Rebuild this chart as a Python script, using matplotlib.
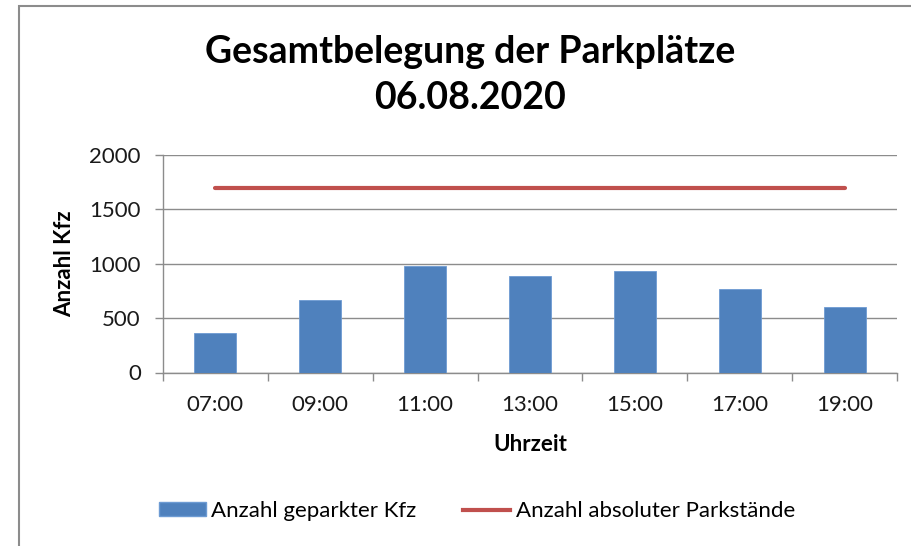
import matplotlib
matplotlib.use("Agg")
import matplotlib.pyplot as plt
from matplotlib.patches import Rectangle
from matplotlib.lines import Line2D
from matplotlib.patches import Patch
import numpy as np

zeiten = ["07:00", "09:00", "11:00", "13:00", "15:00", "17:00", "19:00"]
geparkt = [360, 670, 980, 885, 935, 770, 605]
parkstaende = [1700, 1700, 1700, 1700, 1700, 1700, 1700]
y_ticks = [0, 500, 1000, 1500, 2000]

plt.rcParams['font.family'] = ['Lato', 'DejaVu Sans']

fig = plt.figure(figsize=(9.12, 5.46), dpi=100)
W, H = 912, 546

# chart frame
fig.add_artist(Rectangle((19 / W, -0.1), 1.2, 1 - 6 / H + 0.1, transform=fig.transFigure,
                         fill=False, edgecolor='#8c8c8c', linewidth=1.5))

ax = fig.add_axes([163 / W, 1 - 372.5 / H, (897 - 163) / W, (372.5 - 155) / H])

x = np.arange(len(zeiten))
ax.bar(x, geparkt, width=0.4, color='#4F81BD', edgecolor='#6d9bd3', linewidth=0.6,
       zorder=3, label='Anzahl geparkter Kfz')
ax.plot(x, parkstaende, color='#C0504D', linewidth=3, solid_capstyle='round',
        zorder=4, label='Anzahl absoluter Parkstände')

ax.set_xlim(-0.5, len(zeiten) - 0.5)
ax.set_ylim(0, 2000)
ax.set_yticks(y_ticks)
ax.set_xticks(x)
ax.set_xticklabels(zeiten)
ax.set_xticks(np.arange(len(zeiten) + 1) - 0.5, minor=True)

ax.grid(axis='y', color='#8c8c8c', linewidth=1, zorder=0)
for s in ['top', 'right']:
    ax.spines[s].set_visible(False)
for s in ['left', 'bottom']:
    ax.spines[s].set_color('#8c8c8c')
    ax.spines[s].set_linewidth(1)

ax.tick_params(axis='y', length=6, width=1, color='#8c8c8c', pad=10,
               labelsize=16, labelcolor='#1a1a1a')
ax.tick_params(axis='x', which='major', length=0, pad=16, labelsize=16, labelcolor='#1a1a1a')
ax.tick_params(axis='x', which='minor', length=6, width=1, color='#8c8c8c')

ax.set_ylabel('Anzahl Kfz', fontsize=16, fontweight='bold')
ax.yaxis.set_label_coords((75 - 163) / (897 - 163), 0.5)
ax.set_xlabel('Uhrzeit', fontsize=16, fontweight='bold')
ax.xaxis.set_label_coords(0.5, -(434 - 372.5) / (372.5 - 155))

fig.text(470 / W, 1 - 75 / H, 'Gesamtbelegung der Parkplätze\n06.08.2020',
         ha='center', va='center', fontsize=27, fontweight='bold', linespacing=1.45)

handles = [Patch(facecolor='#4F81BD', edgecolor='#6d9bd3'),
           Line2D([0], [0], color='#C0504D', linewidth=3)]
fig.legend(handles, ['Anzahl geparkter Kfz', 'Anzahl absoluter Parkstände'],
           loc='center', bbox_to_anchor=(477 / W, 1 - 511 / H), ncol=2,
           frameon=False, fontsize=16, handlelength=2.1, handleheight=0.55,
           handletextpad=0.25, columnspacing=2.1)

fig.savefig('out.png', dpi=100)
